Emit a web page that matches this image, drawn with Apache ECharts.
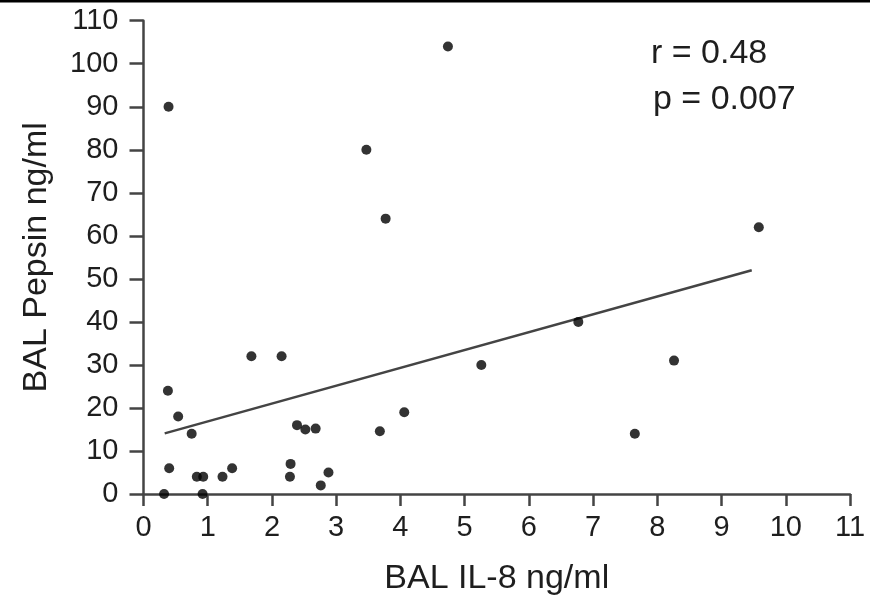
<!DOCTYPE html>
<html>
<head>
<meta charset="utf-8">
<script src="https://cdn.jsdelivr.net/npm/echarts@6/dist/echarts.min.js"></script>
<style>
html,body{margin:0;padding:0;background:#fff;}
#c{width:870px;height:595px;}
</style>
</head>
<body>
<div id="c"></div>
<script>
// Data
var il8 = [0.32, 0.38, 0.39, 0.40, 0.54, 0.75, 0.83, 0.92, 0.93, 1.23, 1.38, 1.68, 2.15, 2.28, 2.29, 2.39, 2.52, 2.68, 2.76, 2.88, 3.47, 3.68, 3.77, 4.06, 4.74, 5.26, 6.77, 7.65, 8.26, 9.58];
var pepsin = [0, 24, 90, 6, 18, 14, 4, 0, 4, 4, 6, 32, 32, 4, 7, 16, 15, 15.2, 2, 5, 80, 14.6, 64, 19, 104, 30, 40, 14, 31, 62];
var trendX = [0.33, 9.47];
var trendY = [14.1, 52];
var xTicks = [0, 1, 2, 3, 4, 5, 6, 7, 8, 9, 10, 11];
var yTicks = [0, 10, 20, 30, 40, 50, 60, 70, 80, 90, 100, 110];
var statsText = ['r = 0.48', 'p = 0.007'];

var pts = il8.map(function (x, i) { return [x, pepsin[i]]; });
var line = trendX.map(function (x, i) { return [x, trendY[i]]; });

var font = 'Liberation Sans, Arial, sans-serif';
var axisCol = '#444';
var txtCol = '#1e1e1e';
var chart = echarts.init(document.getElementById('c'), null, {renderer: 'canvas'});
chart.setOption({
  animation: false,
  backgroundColor: '#fff',
  grid: {left: 143.5, right: 20, top: 20.7, bottom: 101, containLabel: false, outerBoundsMode: 'none'},
  xAxis: {
    type: 'value', min: xTicks[0], max: xTicks[xTicks.length - 1], interval: 1,
    name: 'BAL IL-8 ng/ml', nameLocation: 'middle', nameGap: 68,
    nameTextStyle: {fontFamily: font, fontSize: 34, color: txtCol},
    axisLine: {lineStyle: {color: axisCol, width: 2.5}},
    axisTick: {length: 12, lineStyle: {color: axisCol, width: 2.5}},
    axisLabel: {fontFamily: font, fontSize: 29, color: txtCol, margin: 19},
    splitLine: {show: false}
  },
  yAxis: {
    type: 'value', min: yTicks[0], max: yTicks[yTicks.length - 1], interval: 10,
    name: 'BAL Pepsin ng/ml', nameLocation: 'middle', nameGap: 90,
    nameTextStyle: {fontFamily: font, fontSize: 34, color: txtCol},
    axisLine: {lineStyle: {color: axisCol, width: 2.5}},
    axisTick: {length: 14, lineStyle: {color: axisCol, width: 2.5}},
    axisLabel: {fontFamily: font, fontSize: 29, color: txtCol, margin: 25},
    splitLine: {show: false}
  },
  series: [
    {
      type: 'line', data: line, showSymbol: false, symbol: 'none',
      lineStyle: {color: '#444', width: 2.5}, z: 2
    },
    {
      type: 'scatter', data: pts, symbol: 'circle', symbolSize: 10,
      itemStyle: {color: '#000'}, z: 3
    }
  ],
  graphic: [
    {type: 'rect', left: 0, top: 0, shape: {width: 870, height: 2.5}, style: {fill: '#000'}},
    {type: 'text', x: 651, y: 54, style: {text: statsText[0], font: '34px ' + font, fill: txtCol, verticalAlign: 'middle'}},
    {type: 'text', x: 653, y: 100, style: {text: statsText[1], font: '34px ' + font, fill: txtCol, verticalAlign: 'middle'}}
  ]
});
</script>
</body>
</html>
